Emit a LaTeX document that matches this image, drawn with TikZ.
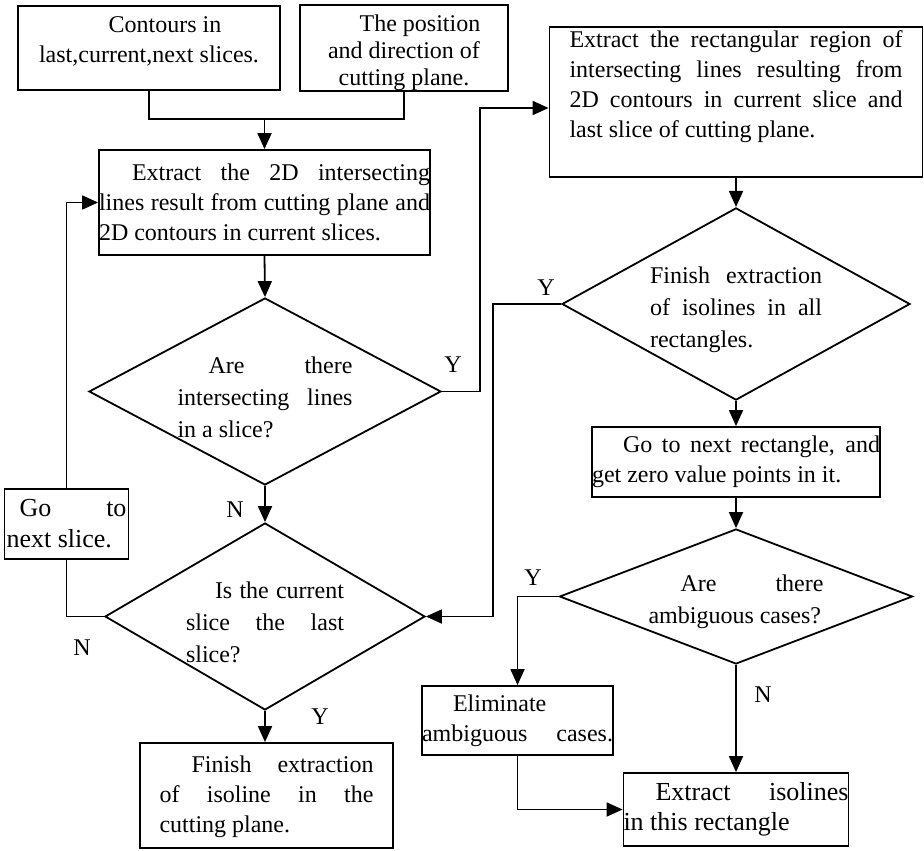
\documentclass[tikz,border=0pt]{standalone}
\usepackage{fontspec}
\setmainfont{Liberation Serif}
\usetikzlibrary{arrows.meta, shapes.geometric, calc}
% one line stretched over the whole text width
\newcommand{\fline}[1]{\makebox[\linewidth][s]{#1}}

\begin{document}
\begin{tikzpicture}[x=0.5pt, y=-0.5pt, line width=0.9pt,
	font=\fontsize{12}{15}\selectfont,
	box/.style={draw, rectangle, inner sep=0pt, align=justify},
	decision/.style={draw, diamond, inner sep=0pt, align=justify,
		text height=14pt, font=\fontsize{12}{16}\selectfont},
	arr/.style={-{Triangle[length=8pt, width=7pt]}},
	yn/.style={inner sep=0pt}]
	\useasboundingbox (0,0) rectangle (924,850);

	% inputs
	\node[box, align=flush center, text width=125pt, minimum width=131pt,
		minimum height=42pt, text depth=23.5pt] (cont) at (149,48)
		{\hspace*{16pt}Contours in\\last,current,next slices.};
	\node[box, align=flush center, font=\fontsize{12}{13.5}\selectfont,
		text width=100pt, minimum width=104pt, minimum height=42pt,
		text height=13.5pt] (plane) at (404,48)
		{\hspace*{16pt}The position\\and direction of\\cutting plane.};

	% loop over the slices
	\node[box, text width=165.5pt, minimum height=52.5pt] (lines) at (264.5,202.5)
		{\fline{\hspace*{16.5pt}Extract the 2D intersecting}\\
		 \fline{lines result from cutting plane and}\\
		 2D contours in current slices.};
	\node[decision, text width=87.5pt, minimum width=176pt, minimum height=93.5pt,
		aspect=1.88] (any) at (265,391.5)
		{\fline{\hspace*{15.5pt}Are there}\\
		 \fline{intersecting lines}\\
		 in a slice?};
	\node[decision, text width=79pt, minimum width=160pt, minimum height=93.5pt,
		aspect=1.71] (last) at (265,616.5)
		{\fline{\hspace*{14.5pt}Is the current}\\
		 \fline{slice the last}\\
		 slice?};
	\node[box, font=\fontsize{13}{15.5}\selectfont, inner xsep=1pt, text width=60pt,
		minimum height=35pt] (next) at (66.5,524)
		{\fline{\hspace*{6.5pt}Go to}\\
		 next slice.};
	\node[box, inner xsep=9.75pt, text width=107pt, minimum height=52.5pt,
		text height=10pt] (done) at (266.5,795.5)
		{\fline{\hspace*{16pt}Finish extraction}\\
		 \fline{of isoline in the}\\
		 cutting plane.};

	% loop over the rectangles
	\node[box, inner xsep=10pt, text width=166.5pt, minimum height=75pt,
		text depth=63pt] (rect) at (736,102)
		{\fline{Extract the rectangular region of}\\
		 \fline{intersecting lines resulting from}\\
		 \fline{2D contours in current slice and}\\
		 last slice of cutting plane.};
	\node[decision, text width=86pt, minimum width=174pt, minimum height=96pt,
		aspect=1.81] (alldone) at (736,304)
		{\fline{Finish extraction}\\
		 \fline{of isolines in all}\\
		 rectangles.};
	\node[box, text width=144pt, minimum height=35pt] (zero) at (736,462)
		{\fline{\hspace*{15.5pt}Go to next rectangle, and}\\
		 get zero value points in it.};
	\node[decision, text width=87.5pt, minimum width=176.5pt, minimum height=67.5pt,
		aspect=2.61] (ambig) at (736,596.5)
		{\fline{\hspace*{16pt}Are there}\\
		 ambiguous cases?};
	\node[box, text width=95.5pt, minimum height=34.5pt] (elim) at (517.5,720.5)
		{\hspace*{15.5pt}Eliminate\\
		 \fline{ambiguous cases.}};
	\node[box, font=\fontsize{13}{15}\selectfont, text width=112.5pt,
		minimum height=36.5pt] (iso) at (736,809.5)
		{\fline{\hspace*{16pt}Extract isolines}\\
		 in this rectangle};

	% connectors
	\coordinate (join) at (264.5,119);
	\draw (cont.south) |- (join) -| (plane.south);
	\draw[arr] (join) -- (lines.north);
	\draw[arr] (lines.south) -- (any.north);
	\draw[arr] (any.south) -- (last.north);
	\draw[arr] (last.south) -- (last.south |- done.north);
	\draw (last.west) -| (next.south);
	\draw[arr] (next.north) |- (lines.west);
	\draw[arr] (any.east) -- ++(38,0) |- ($(rect.west)+(0,6)$);
	\draw[arr] (rect.south) -- (alldone.north);
	\draw[arr] (alldone.west) -- ++(-68,0) |- (last.east);
	\draw[arr] (alldone.south) -- (zero.north);
	\draw[arr] (zero.south) -- (ambig.north);
	\draw[arr] (ambig.west) -| (elim.north);
	\draw[arr] (ambig.south) -- (iso.north);
	\draw[arr] (elim.south) |- (iso.west);

	% branch labels
	\node[yn] (any-y) at (453,365) {Y};
	\node[yn] (any-n) at (235,510) {N};
	\node[yn] (last-n) at (82,648) {N};
	\node[yn] (last-y) at (320,717) {Y};
	\node[yn] (alldone-y) at (546,288) {Y};
	\node[yn] (ambig-y) at (533,578) {Y};
	\node[yn] (ambig-n) at (763,695) {N};
\end{tikzpicture}
\end{document}
